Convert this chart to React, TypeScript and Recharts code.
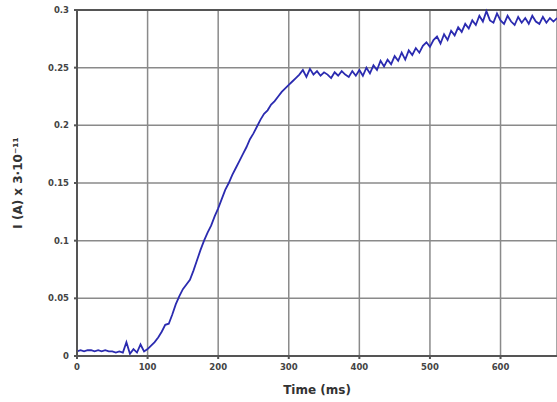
import React from 'react';
import {
  LineChart,
  Line,
  XAxis,
  YAxis,
  CartesianGrid,
  ReferenceLine,
} from 'recharts';

// sample times (ms), one every 5 ms
const times: number[] = [
  0, 5, 10, 15, 20, 25, 30, 35, 40, 45, 50, 55, 60, 65, 70, 75, 80, 85, 90, 95,
  100, 105, 110, 115, 120, 125, 130, 135, 140, 145, 150, 155, 160, 165, 170, 175, 180, 185, 190, 195,
  200, 205, 210, 215, 220, 225, 230, 235, 240, 245, 250, 255, 260, 265, 270, 275, 280, 285, 290, 295,
  300, 305, 310, 315, 320, 325, 330, 335, 340, 345, 350, 355, 360, 365, 370, 375, 380, 385, 390, 395,
  400, 405, 410, 415, 420, 425, 430, 435, 440, 445, 450, 455, 460, 465, 470, 475, 480, 485, 490, 495,
  500, 505, 510, 515, 520, 525, 530, 535, 540, 545, 550, 555, 560, 565, 570, 575, 580, 585, 590, 595,
  600, 605, 610, 615, 620, 625, 630, 635, 640, 645, 650, 655, 660, 665, 670, 675, 680,
];

const current: number[] = [
  0.004, 0.005, 0.004, 0.005, 0.005, 0.004, 0.005, 0.004, 0.005, 0.004, 0.004, 0.003, 0.004, 0.003, 0.012, 0.002, 0.006, 0.003, 0.01, 0.004,
  0.006, 0.009, 0.012, 0.016, 0.021, 0.027, 0.028, 0.036, 0.045, 0.052, 0.058, 0.062, 0.066, 0.074, 0.083, 0.092, 0.1, 0.107, 0.113, 0.121,
  0.128, 0.136, 0.144, 0.15, 0.157, 0.163, 0.169, 0.175, 0.181, 0.188, 0.193, 0.199, 0.205, 0.21, 0.213, 0.218, 0.221, 0.225, 0.229, 0.232,
  0.235, 0.238, 0.241, 0.244, 0.248, 0.242, 0.249, 0.244, 0.247, 0.243, 0.246, 0.244, 0.241, 0.246, 0.243, 0.247, 0.244, 0.242, 0.247, 0.243,
  0.248, 0.243, 0.25, 0.245, 0.252, 0.248, 0.256, 0.251, 0.257, 0.253, 0.26, 0.256, 0.263, 0.257, 0.265, 0.261, 0.267, 0.263, 0.269, 0.272,
  0.268, 0.274, 0.277, 0.271, 0.279, 0.274, 0.282, 0.278, 0.285, 0.281, 0.288, 0.284, 0.291, 0.287, 0.295, 0.29, 0.299, 0.291, 0.289, 0.297,
  0.291, 0.288, 0.295, 0.29, 0.287, 0.294, 0.289, 0.293, 0.288, 0.295, 0.29, 0.288, 0.294, 0.289, 0.293, 0.29, 0.293,
];

const xTicks = [0, 100, 200, 300, 400, 500, 600];
const yTicks = [0, 0.05, 0.1, 0.15, 0.2, 0.25, 0.3];

const FONT = '"DejaVu Sans", Verdana, sans-serif';

const data = times.map((t, i) => ({ t, i: current[i] }));

export default function App() {
  return (
    <div style={{ position: 'absolute', left: 0, top: 0, background: '#fff' }}>
      <LineChart
        width={557}
        height={402}
        data={data}
        margin={{ top: 10, right: 0, left: 0, bottom: 0 }}
        style={{ fontFamily: FONT }}
      >
        <CartesianGrid stroke="#8a8a8a" strokeWidth={1.5} />
        <XAxis
          dataKey="t"
          type="number"
          domain={[0, 680]}
          ticks={xTicks}
          height={46}
          stroke="#555"
          strokeWidth={2}
          tickSize={3}
          tickMargin={5}
          tick={{ fill: '#444', fontSize: 8.5, fontWeight: 'bold' }}
          label={{
            value: 'Time (ms)',
            position: 'insideBottom',
            offset: 8,
            style: { fill: '#333', fontSize: 12, fontWeight: 'bold' },
          }}
        />
        <YAxis
          type="number"
          domain={[0, 0.3]}
          ticks={yTicks}
          width={77}
          stroke="#555"
          strokeWidth={2}
          tickSize={3}
          tickMargin={5}
          tickFormatter={(v: number) => String(v)}
          tick={{ fill: '#444', fontSize: 8.5, fontWeight: 'bold' }}
          label={{
            value: 'I (A) x 3·10⁻¹¹',
            angle: -90,
            position: 'insideLeft',
            offset: 18,
            style: { fill: '#333', fontSize: 12, fontWeight: 'bold', textAnchor: 'middle' },
          }}
        />
        <ReferenceLine y={0.3} stroke="#555" strokeWidth={2} />
        <Line
          type="linear"
          dataKey="i"
          stroke="#2b2bb0"
          strokeWidth={1.8}
          dot={false}
          isAnimationActive={false}
        />
      </LineChart>
    </div>
  );
}
